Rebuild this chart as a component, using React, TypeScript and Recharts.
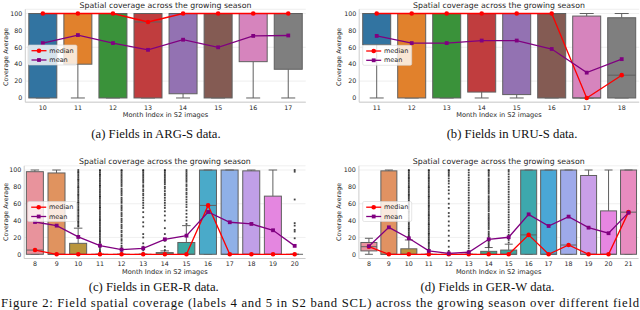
import React from 'react';
import { ComposedChart, Bar, Line, Scatter, XAxis, YAxis, CartesianGrid } from 'recharts';

const FONT = 'DejaVu Sans';
const SERIF = 'Liberation Serif';
const EDGE = '#606060';
const SPINE = '#cccccc';
const GRID = '#ebebeb';
const TXT = '#262626';
const RED = '#ff0000';
const PURPLE = '#800080';

// box stats per month: [low whisker, q1, median, q3, high whisker]
const argMonths = ['10', '11', '12', '13', '14', '15', '16', '17'];
const argBoxes = [
  [0, 0, 100, 100, 100], [0, 40, 100, 100, 100], [0, 0, 100, 100, 100], [0, 0, 90, 100, 100],
  [0, 5, 100, 100, 100], [0, 0, 100, 100, 100], [0, 43, 100, 100, 100], [0, 34, 100, 100, 100],
];
const argMean = [65, 74.5, 65, 57, 69, 60, 73.5, 74];

const uruMonths = ['11', '12', '13', '14', '15', '16', '17', '18'];
const uruBoxes = [
  [0, 63, 100, 100, 100], [0, 0, 100, 100, 100], [0, 0, 100, 100, 100], [0, 7, 100, 100, 100],
  [0, 4, 100, 100, 100], [0, 0, 100, 100, 100], [0, 0, 0, 97, 100], [0, 0, 27, 95, 100],
];
const uruMean = [73.5, 65, 65, 68, 68, 58, 30, 46];

const gerRMonths = ['8', '9', '10', '11', '12', '13', '14', '15', '16', '17', '18', '19', '20'];
const gerRBoxes = [
  [0, 0, 5, 98, 100], [0, 0, 0, 96.5, 100], [0, 0, 0, 13, 31], [0, 0, 0, 0, 0], [0, 0, 0, 0, 0],
  [0, 0, 0, 0, 0], [0, 0, 0, 2, 4], [0, 0, 0, 14, 34], [0, 0, 58, 100, 100], [0, 0, 0, 100, 100],
  [0, 0, 0, 99, 100], [0, 0, 0, 69, 100], [0, 0, 0, 0, 0],
];
const gerRMean = [38.3, 34, 20.6, 10.3, 5.5, 7.1, 17.8, 22.1, 50.2, 38, 36, 28.5, 10];
const gerROutliers: number[][] = [
  [],
  [],
  [33, 34, 36, 38, 39, 41, 43, 45, 46, 48, 50, 52, 53, 55, 57, 59, 61, 62, 64, 66, 68, 70, 71, 73, 75, 77, 79, 80, 82, 84, 86, 88, 89, 91, 93, 95, 97, 98, 100],
  [1, 3, 4, 6, 8, 10, 12, 14, 15, 17, 19, 21, 23, 25, 27, 28, 30, 32, 34, 36, 38, 40, 41, 43, 45, 47, 49, 51, 53, 55, 56, 58, 60, 62, 64, 66, 68, 69, 71, 73, 75, 77, 79, 81, 82, 84, 86, 88, 90, 92, 94, 95, 97, 99, 100],
  [1, 2, 4, 6, 8, 10, 13, 16, 18, 21, 23, 26, 28, 31, 33, 35, 38, 40, 42, 45, 47, 49, 52, 54, 56, 58, 61, 63, 65, 67, 70, 72, 74, 76, 78, 81, 83, 85, 87, 89, 91, 93, 95, 97, 99, 100],
  [2, 5, 9, 13, 20, 24, 33, 38, 44, 50, 55, 58, 61, 64, 67, 70, 72, 75, 77, 80, 82, 85, 87, 89, 91, 93, 95, 97, 99, 100],
  [5, 9, 16, 24, 31, 40, 46, 51, 55, 58, 61, 64, 67, 70, 72, 75, 78, 80, 83, 85, 87, 89, 91, 93, 95, 97, 99, 100],
  [36, 40, 44, 48, 52, 56, 59, 62, 65, 68, 71, 73, 76, 78, 81, 83, 86, 88, 90, 92, 94, 96, 98, 100],
  [],
  [],
  [],
  [],
  [100, 98, 65, 37, 34, 29, 27, 19],
];

const gerWMonths = ['8', '9', '10', '11', '12', '13', '14', '15', '16', '17', '18', '19', '20', '21'];
const gerWBoxes = [
  [0, 4, 9, 14, 19], [0, 0, 0, 99, 100], [0, 0, 0, 6.5, 17], [0, 0, 0, 0, 0], [0, 0, 0, 0, 0],
  [0, 0, 0, 0, 0], [0, 0, 0, 3.5, 8], [0, 0, 0, 5, 12], [0, 0, 23, 100, 100], [0, 0, 0, 100, 100],
  [0, 0, 11, 100, 100], [0, 0, 0, 93.5, 100], [0, 0, 0, 51.5, 100], [0, 0, 50, 100, 100],
];
const gerWMean = [9.5, 32, 19, 4, 1, 2.4, 17.8, 20.2, 47.4, 33.6, 44.7, 31.6, 25, 49.4];
const gerWOutliers: number[][] = [
  [],
  [],
  [19, 21, 22, 24, 26, 28, 30, 31, 33, 35, 37, 39, 40, 42, 44, 46, 48, 50, 51, 53, 55, 57, 59, 60, 62, 64, 66, 68, 70, 71, 73, 75, 77, 79, 80, 82, 84, 86, 88, 90, 91, 93, 95, 97, 99, 100],
  [2, 3, 5, 7, 9, 11, 13, 14, 16, 18, 20, 22, 24, 25, 27, 29, 31, 33, 35, 36, 38, 40, 42, 44, 46, 47, 49, 51, 53, 55, 57, 58, 60, 62, 64, 66, 68, 69, 71, 73, 75, 77, 79, 80, 82, 84, 86, 88, 90, 91, 93, 95, 97, 99, 100],
  [4, 9, 16, 22, 28, 34, 39, 45, 49, 55, 60, 66, 72, 76, 80, 84, 87, 90, 93, 95, 97, 99, 100],
  [2, 4, 7, 10, 13, 16, 19, 22, 25, 28, 31, 34, 37, 40, 43, 46, 49, 52, 55, 58, 61, 64, 67, 70, 73, 76, 79, 82, 85, 88, 91, 94, 97, 100],
  [9, 11, 13, 15, 17, 19, 21, 23, 25, 27, 30, 32, 34, 36, 38, 40, 42, 44, 46, 48, 51, 53, 55, 57, 59, 61, 63, 65, 67, 69, 72, 74, 76, 78, 80, 82, 84, 86, 88, 90, 93, 95, 97, 99, 100],
  [14, 17, 20, 23, 26, 29, 32, 35, 38, 41, 44, 47, 50, 53, 56, 59, 62, 65, 68, 71, 74, 77, 80, 83, 86, 89, 92, 95, 98, 100],
  [],
  [],
  [],
  [],
  [],
  [],
];

const deepColors = ['#3274a1', '#e1812c', '#3a923a', '#c03d3e', '#9372b2', '#845b53', '#d684bd', '#7f7f7f'];
const gerRColors = ['#e8939c', '#e0935f', '#b9953c', '#9b9f3a', '#6ca73b', '#3ca86b', '#3ba78c', '#3ba8a1', '#4aaac9', '#8fb0e7', '#c09fe7', '#e486e0', '#e88cb9'];
const gerWColors = ['#e9939e', '#e19262', '#bd953d', '#a29c3b', '#7fa43b', '#3ea861', '#3ca88a', '#3ba79e', '#3da8ad', '#4aa7d6', '#9eaaea', '#c99fe8', '#e686e2', '#e88cc0'];

function buildRows(months: string[], boxes: number[][], means: number[]) {
  return months.map((m, i) => {
    const [lo, q1, med, q3, hi] = boxes[i];
    return { m, i, lo, q1, med, q3, hi, mean: means[i], base: lo, lw: q1 - lo, box: q3 - q1, uw: hi - q3 };
  });
}

function buildFliers(months: string[], fl: number[][]) {
  return months.flatMap((m, i) => fl[i].map((v) => ({ m, v })));
}

const BoxShape = (p: any) => {
  const { x, y, width, height, payload, color } = p;
  const top = Math.min(y, y + height);
  const h = Math.abs(height);
  const { q1, q3, med } = payload;
  const ym = q3 > q1 ? top + (h * (q3 - med)) / (q3 - q1) : top;
  return (
    <g>
      <rect x={x} y={top} width={width} height={h} fill={color} stroke={EDGE} strokeWidth={1} />
      <line x1={x} x2={x + width} y1={ym} y2={ym} stroke={EDGE} strokeWidth={1} />
    </g>
  );
};

const LowWhisker = (p: any) => {
  const { x, y, width, height } = p;
  const top = Math.min(y, y + height);
  const bot = top + Math.abs(height);
  const cx = x + width / 2;
  return (
    <g>
      <line x1={cx} x2={cx} y1={top} y2={bot} stroke={EDGE} strokeWidth={1} />
      <line x1={cx - width / 4} x2={cx + width / 4} y1={bot} y2={bot} stroke={EDGE} strokeWidth={1} />
    </g>
  );
};

const HighWhisker = (p: any) => {
  const { x, y, width, height } = p;
  const top = Math.min(y, y + height);
  const bot = top + Math.abs(height);
  const cx = x + width / 2;
  return (
    <g>
      <line x1={cx} x2={cx} y1={top} y2={bot} stroke={EDGE} strokeWidth={1} />
      <line x1={cx - width / 4} x2={cx + width / 4} y1={top} y2={top} stroke={EDGE} strokeWidth={1} />
    </g>
  );
};

const Flier = (p: any) => (
  <rect x={p.cx - 0.9} y={p.cy - 0.9} width={1.8} height={1.8} fill="#222" fillOpacity={0.85} />
);

const MedDot = (p: any) => <circle key={p.index} cx={p.cx} cy={p.cy} r={2.3} fill={RED} />;
const MeanDot = (p: any) => (
  <rect key={p.index} x={p.cx - 1.9} y={p.cy - 1.9} width={3.8} height={3.8} fill={PURPLE} />
);

const W = 320;
const H = 128;

function Panel(props: any) {
  const { left, top, plotL, plotR, plotT, plotB, months, boxes, means, outliers, colors } = props;
  const rows = buildRows(months, boxes, means);
  const pts = outliers ? buildFliers(months, outliers) : [];
  const tick = { fontSize: 6.3, fill: TXT, fontFamily: FONT };
  return (
    <div style={{ position: 'absolute', left, top }}>
      <ComposedChart
        width={W}
        height={H}
        data={rows}
        barCategoryGap="10%"
        margin={{ top: plotT, right: W - plotR, bottom: H - plotB - 14, left: 0 }}
      >
        <CartesianGrid vertical={false} stroke={GRID} strokeWidth={0.8} />
        <XAxis
          dataKey="m"
          type="category"
          allowDuplicatedCategory={false}
          height={14}
          interval={0}
          tickLine={false}
          tickSize={0}
          tickMargin={3}
          axisLine={{ stroke: SPINE }}
          tick={tick}
        />
        <XAxis xAxisId="top" orientation="top" dataKey="m" allowDuplicatedCategory={false} height={0} tick={false} tickLine={false} axisLine={{ stroke: SPINE }} />
        <YAxis
          width={plotL}
          type="number"
          domain={[-5, 105]}
          ticks={[0, 20, 40, 60, 80, 100]}
          allowDataOverflow
          tickLine={false}
          tickSize={0}
          tickMargin={3}
          axisLine={{ stroke: SPINE }}
          tick={tick}
        />
        <YAxis yAxisId="right" orientation="right" width={0} domain={[-5, 105]} tick={false} tickLine={false} axisLine={{ stroke: SPINE }} />
        <Bar dataKey="base" stackId="b" fill="none" isAnimationActive={false} />
        <Bar dataKey="lw" stackId="b" shape={LowWhisker} isAnimationActive={false} />
        <Bar dataKey="box" stackId="b" shape={(p: any) => <BoxShape {...p} color={colors[p.payload.i]} />} isAnimationActive={false} />
        <Bar dataKey="uw" stackId="b" shape={HighWhisker} isAnimationActive={false} />
        {pts.length > 0 && <Scatter data={pts} dataKey="v" shape={Flier} isAnimationActive={false} />}
        <Line dataKey="med" stroke={RED} strokeWidth={1.3} dot={MedDot} activeDot={false} isAnimationActive={false} />
        <Line dataKey="mean" stroke={PURPLE} strokeWidth={1.3} dot={MeanDot} activeDot={false} isAnimationActive={false} />
      </ComposedChart>
    </div>
  );
}

function LegendBox({ x, y }: { x: number; y: number }) {
  const t = { fontSize: 6.5, fill: TXT, fontFamily: FONT, dominantBaseline: 'central' as const };
  return (
    <g>
      <rect x={x} y={y} width={49} height={20} rx={1.5} fill="#fff" fillOpacity={0.8} stroke="#d5d5d5" strokeWidth={0.6} />
      <line x1={x + 3.5} x2={x + 18.5} y1={y + 5.7} y2={y + 5.7} stroke={RED} strokeWidth={1.3} />
      <circle cx={x + 11} cy={y + 5.7} r={2.3} fill={RED} />
      <text x={x + 21.3} y={y + 5.7} {...t}>median</text>
      <line x1={x + 3.5} x2={x + 18.5} y1={y + 15} y2={y + 15} stroke={PURPLE} strokeWidth={1.3} />
      <rect x={x + 9.1} y={y + 13.1} width={3.8} height={3.8} fill={PURPLE} />
      <text x={x + 21.3} y={y + 15} {...t}>mean</text>
    </g>
  );
}

function Labels({ cx, titleY, xlabY, ylabX, ylabY, legX, legY, capX, capY, caption }: any) {
  const s = { fontFamily: FONT, fill: TXT, textAnchor: 'middle' as const, dominantBaseline: 'central' as const };
  return (
    <g>
      <text x={cx} y={titleY} fontSize={7.8} {...s}>Spatial coverage across the growing season</text>
      <text x={cx} y={xlabY} fontSize={6.6} {...s}>Month Index in S2 images</text>
      <text x={ylabX} y={ylabY} fontSize={6.3} transform={`rotate(-90 ${ylabX} ${ylabY})`} {...s}>Coverage Average</text>
      <LegendBox x={legX} y={legY} />
      <text x={capX} y={capY} fontSize={12.7} fontFamily={SERIF} fill="#111" textAnchor="middle" dominantBaseline="central">{caption}</text>
    </g>
  );
}

export default function App() {
  return (
    <div style={{ position: 'absolute', left: 0, top: 0, width: 640, height: 310, overflow: 'hidden', background: '#fff' }}>
      <Panel left={0} top={0} plotL={25.3} plotR={305.8} plotT={9.3} plotB={102.2} months={argMonths} boxes={argBoxes} means={argMean} colors={deepColors} />
      <Panel left={320} top={0} plotL={39.2} plotR={319.2} plotT={9.3} plotB={102.2} months={uruMonths} boxes={uruBoxes} means={uruMean} colors={deepColors} />
      <Panel left={0} top={150} plotL={24.2} plotR={305.5} plotT={15.8} plotB={108.5} months={gerRMonths} boxes={gerRBoxes} means={gerRMean} outliers={gerROutliers} colors={gerRColors} />
      <Panel left={320} top={150} plotL={38.9} plotR={318.5} plotT={15.8} plotB={108.5} months={gerWMonths} boxes={gerWBoxes} means={gerWMean} outliers={gerWOutliers} colors={gerWColors} />
      <svg width={640} height={310} style={{ position: 'absolute', left: 0, top: 0, pointerEvents: 'none' }}>
        <Labels cx={165.5} titleY={5.5} xlabY={115} ylabX={5} ylabY={57} legX={28} legY={45} capX={156} capY={134} caption="(a) Fields in ARG-S data." />
        <Labels cx={499} titleY={5.5} xlabY={115} ylabX={338.3} ylabY={57} legX={362.7} legY={45.3} capX={512} capY={134} caption="(b) Fields in URU-S data." />
        <Labels cx={164.9} titleY={161} xlabY={271.7} ylabX={5} ylabY={212} legX={27.7} legY={201.5} capX={153.7} capY={286.7} caption="(c) Fields in GER-R data." />
        <Labels cx={498.7} titleY={161} xlabY={271.7} ylabX={338} ylabY={212} legX={362.7} legY={201.5} capX={487.5} capY={286.7} caption="(d) Fields in GER-W data." />
        <text x={1} y={307.3} fontSize={12.7} fontFamily={SERIF} fill="#111" textLength={638} lengthAdjust="spacing">
          Figure 2: Field spatial coverage (labels 4 and 5 in S2 band SCL) across the growing season over different field
        </text>
      </svg>
    </div>
  );
}
